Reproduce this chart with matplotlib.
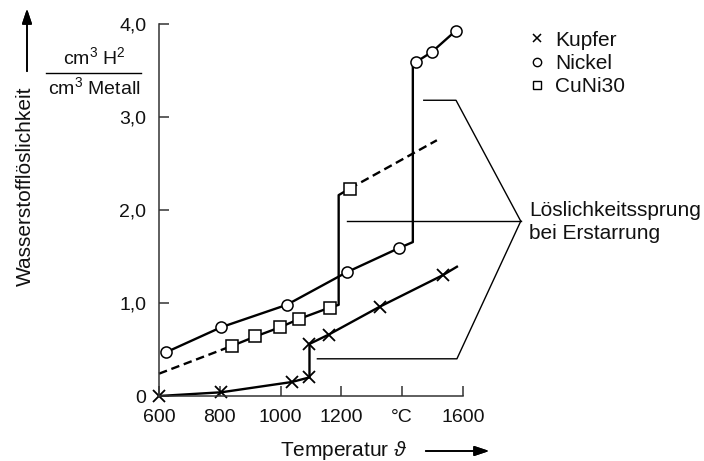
import matplotlib
matplotlib.use("Agg")
import matplotlib.pyplot as plt
from matplotlib.lines import Line2D

plt.rcParams["font.family"] = ["Liberation Sans", "DejaVu Sans"]
plt.rcParams["mathtext.fontset"] = "custom"
plt.rcParams["mathtext.rm"] = "Liberation Sans"
plt.rcParams["mathtext.it"] = "Liberation Sans:italic"
plt.rcParams["mathtext.fallback"] = "cm"

# Kupfer (copper): x markers, jump at solidification
cu_t = [600, 805, 1036, 1095, 1095, 1158, 1326, 1534]
cu_s = [0.0, 0.04, 0.15, 0.20, 0.56, 0.66, 0.96, 1.30]
cu_line_t = cu_t + [1580]
cu_line_s = cu_s + [1.39]

# Nickel: circles
ni_t = [623, 805, 1020, 1217, 1389, 1445, 1498, 1577]
ni_s = [0.47, 0.74, 0.98, 1.33, 1.59, 3.59, 3.70, 3.93]
ni_line_t = [623, 805, 1020, 1217, 1389, 1435, 1435, 1445, 1498, 1577]
ni_line_s = [0.47, 0.74, 0.98, 1.33, 1.59, 1.655, 3.54, 3.59, 3.70, 3.93]

# CuNi30: squares, dashed extrapolations
cn_t = [841, 917, 999, 1062, 1161, 1227]
cn_s = [0.54, 0.64, 0.74, 0.83, 0.95, 2.23]
cn_solid_t = [841, 917, 999, 1062, 1161, 1191, 1191, 1227]
cn_solid_s = [0.54, 0.64, 0.74, 0.83, 0.95, 0.98, 2.16, 2.23]
cn_dash_lo_t = [600, 841]
cn_dash_lo_s = [0.24, 0.54]
cn_dash_hi_t = [1227, 1514]
cn_dash_hi_s = [2.23, 2.75]

x_ticks = [600, 800, 1000, 1200, 1400, 1600]
x_labels = ["600", "800", "1000", "1200", "°C", "1600"]
y_ticks = [0, 1, 2, 3, 4]
y_labels = ["0", "1,0", "2,0", "3,0", "4,0"]

# leader lines for the note (data coords)
lead_up_t = [1471, 1577, 1790]
lead_up_s = [3.18, 3.18, 1.88]
lead_mid_t = [1220, 1790]
lead_mid_s = [1.88, 1.88]
lead_lo_t = [1121, 1580, 1790]
lead_lo_s = [0.40, 0.40, 1.88]

ink = "#111111"
W, H = 704, 461
fig = plt.figure(figsize=(W / 100, H / 100), dpi=100)
ax = fig.add_axes([159 / W, 65 / H, (463 - 159) / W, (396 - 24) / H])

lw = 1.7
ax.plot(cu_line_t, cu_line_s, color="k", lw=lw, clip_on=False)
ax.plot(cu_t, cu_s, ls="none", marker="x", ms=8, mew=1.3, color="k", clip_on=False)

ax.plot(ni_line_t, ni_line_s, color="k", lw=lw, clip_on=False)
ax.plot(ni_t, ni_s, ls="none", marker="o", ms=8, mfc="white", mec="k", mew=1.1, clip_on=False)

ax.plot(cn_solid_t, cn_solid_s, color="k", lw=lw, clip_on=False)
for tt, ss in [(cn_dash_lo_t, cn_dash_lo_s), (cn_dash_hi_t, cn_dash_hi_s)]:
    ax.plot(tt, ss, color="k", lw=lw, dashes=(3.6, 2.0), clip_on=False)
ax.plot(cn_t, cn_s, ls="none", marker="s", ms=8.5, mfc="white", mec="k", mew=1.1, clip_on=False)

for tt, ss in [(lead_up_t, lead_up_s), (lead_mid_t, lead_mid_s), (lead_lo_t, lead_lo_s)]:
    ax.plot(tt, ss, color="k", lw=1.0, clip_on=False, zorder=1)

ax.set_xlim(600, 1600)
ax.set_ylim(0, 4)
ax.set_xticks(x_ticks)
ax.set_xticklabels(x_labels)
ax.set_yticks(y_ticks)
ax.set_yticklabels(y_labels)
ax.tick_params(direction="in", length=7, width=1.1, color="#333333",
               labelsize=14, labelcolor=ink, pad=9)
for side in ["top", "right"]:
    ax.spines[side].set_visible(False)
for side in ["left", "bottom"]:
    ax.spines[side].set_color("#333333")
    ax.spines[side].set_linewidth(1.1)

# note
fig.text(529 / W, 1 - 222 / H, "Löslichkeitssprung\nbei Erstarrung", fontsize=15,
         color=ink, ha="left", va="center", linespacing=1.3)

# legend
handles = [
    Line2D([], [], ls="none", marker="x", ms=6, mew=1.1, color="k"),
    Line2D([], [], ls="none", marker="o", ms=6, mfc="white", mec="k", mew=1.0),
    Line2D([], [], ls="none", marker="s", ms=6, mfc="white", mec="k", mew=1.0),
]
fig.legend(handles, ["Kupfer", "Nickel", "CuNi30"], loc="upper left",
           bbox_to_anchor=(510 / W, 1 - 12 / H), frameon=False, fontsize=15,
           handlelength=0.8, handletextpad=0.45, labelspacing=0.2, labelcolor=ink)

# y axis label with arrow
fig.text(25 / W, 1 - 186 / H, "Wasserstofflöslichkeit", rotation=90, fontsize=15,
         color=ink, ha="center", va="center")
fig.add_artist(plt.annotate("", xy=(27 / W, 1 - 6 / H), xytext=(27 / W, 1 - 74 / H),
                            xycoords="figure fraction", textcoords="figure fraction",
                            arrowprops=dict(arrowstyle="-|>,head_length=0.9,head_width=0.3",
                                            color="k", lw=1.2)))

# unit fraction
fig.text(94 / W, 1 - 57 / H, "cm$^3$ H$^2$", fontsize=14, color=ink, ha="center", va="center")
fig.text(94 / W, 1 - 87 / H, "cm$^3$ Metall", fontsize=14, color=ink, ha="center", va="center")
fig.add_artist(Line2D([46 / W, 141 / W], [1 - 73 / H, 1 - 73 / H], color="k", lw=1.0,
                      transform=fig.transFigure))

# x axis label with arrow
fig.text(280 / W, 1 - 450 / H, "Temperatur $\\vartheta$", fontsize=15, color=ink,
         ha="left", va="center")
fig.add_artist(plt.annotate("", xy=(492 / W, 1 - 451 / H), xytext=(423 / W, 1 - 451 / H),
                            xycoords="figure fraction", textcoords="figure fraction",
                            arrowprops=dict(arrowstyle="-|>,head_length=0.9,head_width=0.3",
                                            color="k", lw=1.2)))

fig.savefig("out.png", dpi=100)
